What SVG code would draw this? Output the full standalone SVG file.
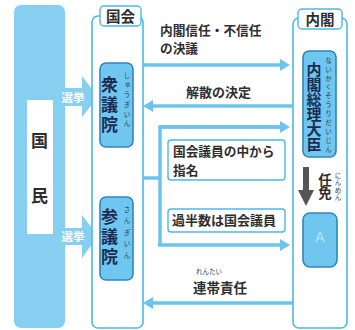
<svg xmlns="http://www.w3.org/2000/svg" width="355" height="330" viewBox="0 0 355 330">
<defs>
<style>
.t{font-family:"Noto Sans CJK JP","Noto Sans",sans-serif;fill:#2e2e2e;font-weight:bold}
.v{writing-mode:vertical-rl;text-orientation:upright}
.frame{fill:#fff;stroke:#4cb8e6;stroke-width:1.6}
.house{fill:#6fc6ef;stroke:#2f86bd;stroke-width:1.6}
.lbl{fill:#fff;stroke:#4cb8e6;stroke-width:1.4}
.conn{stroke:#6cc4ee;stroke-width:3.5;fill:none}
.ruby{font-family:"Noto Sans CJK JP",sans-serif;fill:#2a3a5a;font-size:6.5px}
.hk{font-family:"Noto Sans CJK JP",sans-serif;fill:#1d2b52;font-weight:bold}
</style>
<marker id="ah" viewBox="0 -6 10 12" refX="0" refY="0" markerWidth="10" markerHeight="12" markerUnits="userSpaceOnUse" orient="auto">
<path d="M0,-6 L10,0 L0,6 z" fill="#6cc4ee"/>
</marker>
</defs>
<rect width="355" height="330" fill="#fff"/>

<g id="kokumin">
<rect x="14" y="5" width="51" height="323" rx="7" fill="#86cff1"/>
<rect x="27" y="100" width="26" height="134" fill="#fff"/>
<text class="t" x="39.5" y="147" font-size="17" text-anchor="middle">国</text>
<text class="t" x="39.5" y="202" font-size="17" text-anchor="middle">民</text>
</g>

<g id="senkyo1">
<path d="M58,88 H82 V76 L98,97 L82,117 V106 H58 z" fill="#86cff1"/>
<text class="t" x="73" y="102" font-size="11.5" text-anchor="middle" style="fill:#fff">選挙</text>
</g>
<g id="senkyo2">
<path d="M58,228 H82 V215 L98,236 L82,258 V245 H58 z" fill="#86cff1"/>
<text class="t" x="73" y="241" font-size="11.5" text-anchor="middle" style="fill:#fff">選挙</text>
</g>

<g id="kokkai">
<rect class="frame" x="92" y="16" width="51" height="312" rx="6"/>
<rect class="lbl" x="100" y="6" width="41" height="20" rx="4"/>
<text class="t" x="120.5" y="22" font-size="14.5" text-anchor="middle">国会</text>
</g>

<g id="shugiin">
<rect class="house" x="100" y="63" width="33" height="84" rx="6"/>
<text class="hk v" x="109.5" y="76" font-size="17" letter-spacing="3">衆議院</text>
<text class="ruby v" x="127" y="72" letter-spacing="3.2">しゅうぎいん</text>
</g>

<g id="sangiin">
<rect class="house" x="100" y="197" width="33" height="83" rx="6"/>
<text class="hk v" x="109.5" y="208" font-size="17" letter-spacing="3">参議院</text>
<text class="ruby v" x="127" y="206" letter-spacing="5">さんぎいん</text>
</g>

<g id="naikaku">
<rect class="frame" x="293" y="18" width="54" height="310" rx="6"/>
<rect class="lbl" x="298" y="9" width="44" height="20" rx="4"/>
<text class="t" x="320" y="25" font-size="14.5" text-anchor="middle">内閣</text>
</g>

<g id="souri">
<rect class="house" x="303" y="51" width="33" height="106" rx="6"/>
<text class="hk v" x="314" y="62" font-size="15">内閣総理大臣</text>
<text class="ruby v" x="328.5" y="57" font-size="6" letter-spacing="2.4">ないかくそうりだいじん</text>
</g>

<g id="ninmen">
<path d="M303,167 H309 V190 H314 L306,206 L298,190 H303 z" fill="#555"/>
<text class="t v" x="325" y="173" font-size="13.5">任免</text>
<text class="ruby v" x="338" y="172" font-size="5.5" letter-spacing="1">にんめん</text>
</g>

<g id="A">
<rect class="house" x="303" y="213" width="34" height="54" rx="7"/>
<text x="320" y="242" font-size="14" text-anchor="middle" font-family="Liberation Sans,sans-serif" fill="#b8e5fa">A</text>
</g>

<g id="connectors">
<line class="conn" x1="143" y1="65" x2="280" y2="65" marker-end="url(#ah)"/>
<line class="conn" x1="293" y1="106" x2="153" y2="106" marker-end="url(#ah)"/>
<path class="conn" d="M143,178 H160 M160,245 V127 H280"/>
<line class="conn" x1="160" y1="127" x2="280" y2="127" marker-end="url(#ah)"/>
<line class="conn" x1="158" y1="245" x2="280" y2="245" marker-end="url(#ah)"/>
<line class="conn" x1="293" y1="303" x2="153" y2="303" marker-end="url(#ah)"/>
</g>

<g id="labels">
<text class="t" font-size="12.7"><tspan x="160" y="34.5">内閣信任・不信任</tspan><tspan x="160" y="53">の決議</tspan></text>
<text class="t" x="186" y="97" font-size="13">解散の決定</text>
<text class="t" x="193" y="293" font-size="13.5">連帯責任</text>
<text class="ruby" x="196" y="274" font-size="5.5">れんたい</text>
</g>

<g id="shimei">
<rect class="lbl" x="168" y="140" width="117" height="40" rx="3"/>
<text class="t" font-size="12.7"><tspan x="173" y="156">国会議員の中から</tspan><tspan x="173" y="174.5">指名</tspan></text>
</g>

<g id="kahansu">
<rect class="lbl" x="168" y="209" width="117" height="23" rx="3"/>
<text class="t" x="172" y="225" font-size="13">過半数は国会議員</text>
</g>
</svg>
